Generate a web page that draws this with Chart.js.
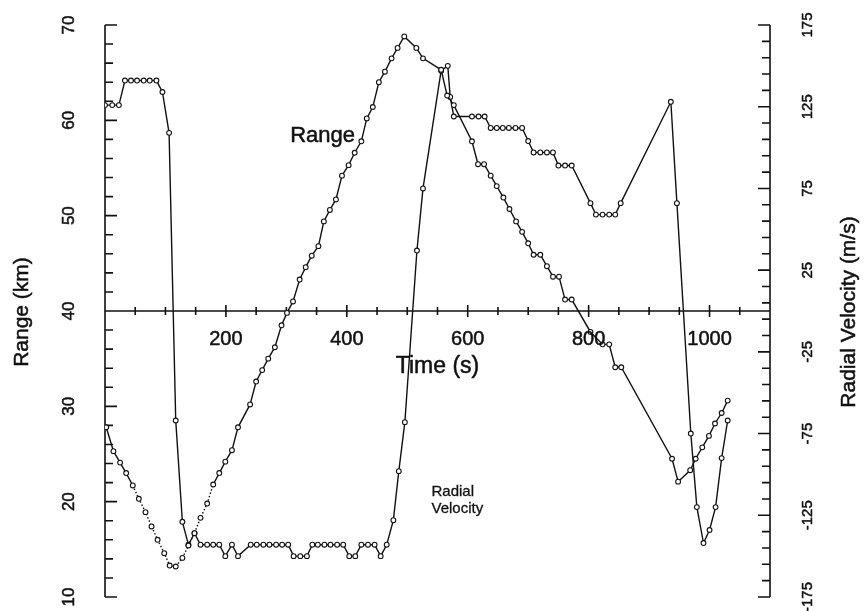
<!DOCTYPE html>
<html>
<head>
<meta charset="utf-8">
<title>Range and Radial Velocity</title>
<script src="https://cdn.jsdelivr.net/npm/chart.js@4.4.1/dist/chart.umd.min.js"></script>
<style>
  html, body { margin: 0; padding: 0; background: #fff; }
  #wrap { width: 866px; height: 611px; }
</style>
</head>
<body>
<div id="wrap"><canvas id="rangeCanvas"></canvas></div>
<script>
// range series (left axis, km)
const rangeTime = [2, 14, 25, 35, 46, 56, 67, 77, 87, 98, 107, 117, 128, 138, 148, 158, 169, 179, 189, 199,
    210, 220, 240, 250, 260, 270, 281, 292, 301, 311, 322, 332, 342, 353, 362, 372, 382, 392, 403, 413,
    424, 433, 443, 453, 463, 474, 484, 495, 515, 526, 556, 566, 577, 607, 617, 627, 638, 648, 659, 669,
    680, 690, 700, 709, 720, 731, 741, 751, 761, 772, 803, 823, 834, 844, 854, 938, 948, 968, 977, 988,
    999, 1009, 1020, 1030];
const rangeKm = [27.8, 25.3, 24.1, 23.0, 21.7, 20.3, 18.9, 17.4, 16.0, 14.6, 13.3, 13.2, 14.1, 15.4, 16.7, 18.3, 19.8, 21.8, 23.0, 24.2,
    25.4, 27.8, 30.2, 32.6, 33.8, 35.0, 36.2, 38.5, 39.8, 41.0, 43.3, 44.6, 45.8, 46.8, 49.4, 50.6, 51.7, 54.2, 55.3, 56.6,
    57.8, 60.2, 61.4, 64.0, 65.1, 66.5, 67.6, 68.8, 67.6, 66.5, 65.3, 62.6, 61.6, 57.8, 55.4, 55.4, 54.2, 53.1, 51.9, 50.7,
    49.4, 48.3, 47.1, 45.9, 45.9, 44.7, 43.6, 43.6, 41.2, 41.2, 37.8, 36.5, 36.5, 34.1, 34.1, 24.5, 22.1, 23.3, 24.5, 25.7,
    26.9, 28.2, 29.3, 30.6];

// radial velocity series (right axis, m/s)
const velTime = [0, 12, 23, 33, 43, 53, 64, 74, 85, 95, 106, 117, 128, 138, 148, 158, 169, 179, 189, 199,
    210, 220, 241, 251, 262, 272, 283, 293, 303, 312, 323, 334, 343, 352, 363, 373, 384, 394, 404, 414,
    424, 435, 446, 456, 466, 477, 486, 496, 516, 526, 556, 567, 571, 577, 607, 618, 628, 638, 648, 658,
    668, 679, 690, 700, 709, 720, 731, 741, 750, 761, 772, 803, 812, 823, 834, 844, 853, 936, 946, 969,
    979, 990, 1000, 1010, 1020, 1030];
const velMs = [126, 126, 126, 141, 141, 141, 141, 141, 141, 134, 109, -67, -129, -143, -136, -143, -143, -143, -143, -150,
    -143, -150, -143, -143, -143, -143, -143, -143, -143, -150, -150, -150, -143, -143, -143, -143, -143, -143, -150, -150,
    -143, -143, -143, -150, -143, -128, -98, -68, 37, 75, 147, 150, 131, 119, 119, 119, 119, 112, 112, 112,
    112, 112, 112, 104, 97, 97, 97, 97, 89, 89, 89, 66, 59, 59, 59, 59, 66, 128, 66, -75,
    -120, -142, -134, -120, -90, -67];

const timeTicks = [200, 400, 600, 800, 1000];
const rangeTicks = [10, 20, 30, 40, 50, 60, 70];
const velTicks = [-175, -125, -75, -25, 25, 75, 125, 175];

const FONT = "'Liberation Sans', Arial, sans-serif";
const INK = "#111";

function pts(xs, ys) {
    return xs.map((x, i) => ({ x: x, y: ys[i] }));
}

// scanned print looks a bit heavier than plain text, so add a thin outline
function ink(ctx, text, x, y) {
    ctx.fillText(text, x, y);
    ctx.strokeText(text, x, y);
}

function vText(ctx, text, x, y, size) {
    ctx.save();
    ctx.translate(x, y);
    ctx.rotate(-Math.PI / 2);
    ctx.font = size + "px " + FONT;
    ctx.textAlign = "center";
    ctx.textBaseline = "middle";
    ink(ctx, text, 0, 0);
    ctx.restore();
}

const axesPlugin = {
    id: "axes",
    beforeDatasetsDraw(chart) {
        const ctx = chart.ctx;
        const a = chart.chartArea;
        const x = chart.scales.x, y = chart.scales.y, y2 = chart.scales.y2;
        const y0 = y.getPixelForValue(40);
        ctx.save();
        ctx.strokeStyle = INK;
        ctx.lineWidth = 1.6;
        ctx.beginPath();
        ctx.moveTo(a.left, a.top); ctx.lineTo(a.left, a.bottom);
        ctx.moveTo(a.right, a.top); ctx.lineTo(a.right, a.bottom);
        ctx.moveTo(a.left, y0); ctx.lineTo(a.right, y0);
        for (let v = 10; v <= 70; v += 2) {
            const p = y.getPixelForValue(v);
            const len = v % 10 === 0 ? 12 : 8;
            ctx.moveTo(a.left, p); ctx.lineTo(a.left + len, p);
        }
        for (let v = -175; v <= 175; v += 10) {
            const p = y2.getPixelForValue(v);
            const len = velTicks.includes(v) ? 12 : 8;
            ctx.moveTo(a.right, p); ctx.lineTo(a.right - len, p);
        }
        for (let t = 50; t < 1100; t += 50) {
            const p = x.getPixelForValue(t);
            const len = t % 200 === 0 ? 6 : 4;
            ctx.moveTo(p, y0 - len); ctx.lineTo(p, y0 + len);
        }
        ctx.stroke();
        ctx.restore();
    },
    afterDraw(chart) {
        const ctx = chart.ctx;
        const a = chart.chartArea;
        const x = chart.scales.x, y = chart.scales.y, y2 = chart.scales.y2;
        const y0 = y.getPixelForValue(40);
        ctx.save();
        ctx.fillStyle = INK;
        ctx.strokeStyle = INK;
        ctx.lineWidth = 0.5;

        rangeTicks.forEach(v => vText(ctx, String(v), a.left - 36, y.getPixelForValue(v), 17));
        velTicks.forEach(v => vText(ctx, String(v), a.right + 38, y2.getPixelForValue(v), 15));

        ctx.font = "20px " + FONT;
        ctx.textAlign = "center";
        ctx.textBaseline = "middle";
        timeTicks.forEach(t => ink(ctx, String(t), x.getPixelForValue(t), y0 + 28));

        ctx.font = "23px " + FONT;
        ink(ctx, "Time (s)", (a.left + a.right) / 2, y0 + 56);

        vText(ctx, "Range (km)", 22, 312, 21);
        vText(ctx, "Radial Velocity (m/s)", 849, 312, 21);

        // series labels inside the plot
        ctx.font = "22px " + FONT;
        ctx.textAlign = "center";
        ink(ctx, "Range", x.getPixelForValue(360), y.getPixelForValue(58.4));
        ctx.font = "15px " + FONT;
        ctx.textAlign = "left";
        ctx.lineWidth = 0.3;
        ink(ctx, "Radial", x.getPixelForValue(540), y.getPixelForValue(21.0));
        ink(ctx, "Velocity", x.getPixelForValue(540), y.getPixelForValue(19.2));
        ctx.restore();
    }
};

const rangeCanvas = document.getElementById("rangeCanvas");
const rangeChart = new Chart(rangeCanvas, {
    type: "line",
    data: {
        datasets: [{
            label: "Range",
            data: pts(rangeTime, rangeKm),
            yAxisID: "y",
            borderColor: INK,
            borderWidth: 1.4,
            pointRadius: 2.4,
            pointBorderWidth: 1.1,
            pointBackgroundColor: "#fff",
            pointBorderColor: INK,
            segment: {
                borderDash: c => (rangeTime[c.p0DataIndex] >= 40 && rangeTime[c.p1DataIndex] <= 185) ? [1.5, 2] : undefined
            }
        }, {
            label: "Radial Velocity",
            data: pts(velTime, velMs),
            yAxisID: "y2",
            borderColor: INK,
            borderWidth: 1.4,
            pointRadius: 2.4,
            pointBorderWidth: 1.1,
            pointBackgroundColor: "#fff",
            pointBorderColor: INK
        }]
    },
    options: {
        responsive: true,
        maintainAspectRatio: false,
        animation: false,
        layout: {
            padding: { left: 105, right: 96, top: 25, bottom: 14 }
        },
        scales: {
            x: { type: "linear", min: 0, max: 1100, display: false },
            y: { type: "linear", min: 10, max: 70, display: false },
            y2: { type: "linear", min: -175, max: 175, display: false }
        },
        plugins: {
            legend: { display: false },
            tooltip: { enabled: false }
        }
    },
    plugins: [axesPlugin]
});
</script>
</body>
</html>
